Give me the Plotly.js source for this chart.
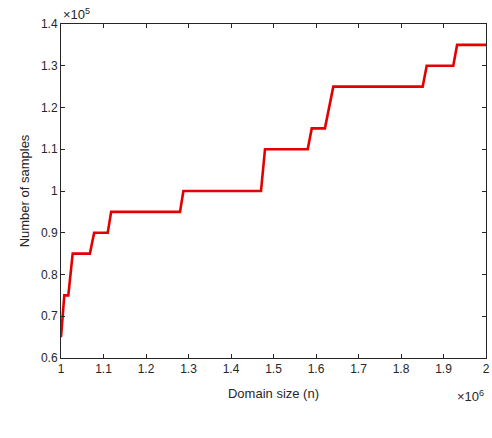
<!DOCTYPE html>
<html>
<head>
<meta charset="utf-8">
<script src="https://cdn.plot.ly/plotly-3.0.1.min.js"></script>
<style>html,body{margin:0;padding:0;background:#fff;}#chart{width:492px;height:438px;}</style>
</head>
<body>
<div id="chart"></div>
<script>
// Domain size n (x) and number of samples (y)
const domainSize = [1000000, 1007800, 1017200, 1027500, 1068000, 1078000, 1110000, 1118000, 1280000, 1288000,
  1470600, 1480000, 1580500, 1590000, 1621000, 1640700, 1851000, 1860500, 1923000, 1932000, 2000000];
const numSamples = [65000, 75000, 75000, 85000, 85000, 90000, 90000, 95000, 95000, 100000,
  100000, 110000, 110000, 115000, 115000, 125000, 125000, 130000, 130000, 135000, 135000];

const xTickVals = [1000000, 1100000, 1200000, 1300000, 1400000, 1500000, 1600000, 1700000, 1800000, 1900000, 2000000];
const xTickText = ['1', '1.1', '1.2', '1.3', '1.4', '1.5', '1.6', '1.7', '1.8', '1.9', '2'];
const yTickVals = [60000, 70000, 80000, 90000, 100000, 110000, 120000, 130000, 140000];
const yTickText = ['0.6', '0.7', '0.8', '0.9', '1', '1.1', '1.2', '1.3', '1.4'];

const font = {family: 'Liberation Sans, Arial, sans-serif', size: 12, color: '#262626'};
const titleFont = {family: 'Liberation Sans, Arial, sans-serif', size: 13, color: '#262626'};

const trace = {
  x: domainSize, y: numSamples, type: 'scatter', mode: 'lines',
  line: {color: 'rgb(228,0,0)', width: 2.6}, hoverinfo: 'skip'
};

const axisCommon = {
  showgrid: false, zeroline: false, showline: true, mirror: 'ticks',
  linecolor: '#262626', linewidth: 1, ticks: 'inside', ticklen: 4, tickcolor: '#262626',
  tickfont: font
};

const layout = {
  width: 492, height: 438,
  margin: {l: 61, r: 6, t: 24, b: 80},
  paper_bgcolor: '#fff', plot_bgcolor: '#fff',
  showlegend: false,
  xaxis: Object.assign({}, axisCommon, {
    range: [1000000, 2000000], tickvals: xTickVals, ticktext: xTickText,
    title: {text: 'Domain size (n)', font: titleFont, standoff: 13}
  }),
  yaxis: Object.assign({}, axisCommon, {
    range: [60000, 140000], tickvals: yTickVals, ticktext: yTickText,
    title: {text: 'Number of samples', font: titleFont, standoff: 8}
  }),
  annotations: [
    {xref: 'paper', yref: 'paper', x: 0, y: 1, xanchor: 'left', yanchor: 'bottom', yshift: 0,
     text: '×10<sup>5</sup>', showarrow: false, font: titleFont},
    {xref: 'paper', yref: 'paper', x: 1, y: 0, xanchor: 'right', yanchor: 'top', yshift: -28,
     text: '×10<sup>6</sup>', showarrow: false, font: titleFont}
  ]
};

Plotly.newPlot('chart', [trace], layout, {staticPlot: true, displayModeBar: false});
</script>
</body>
</html>
